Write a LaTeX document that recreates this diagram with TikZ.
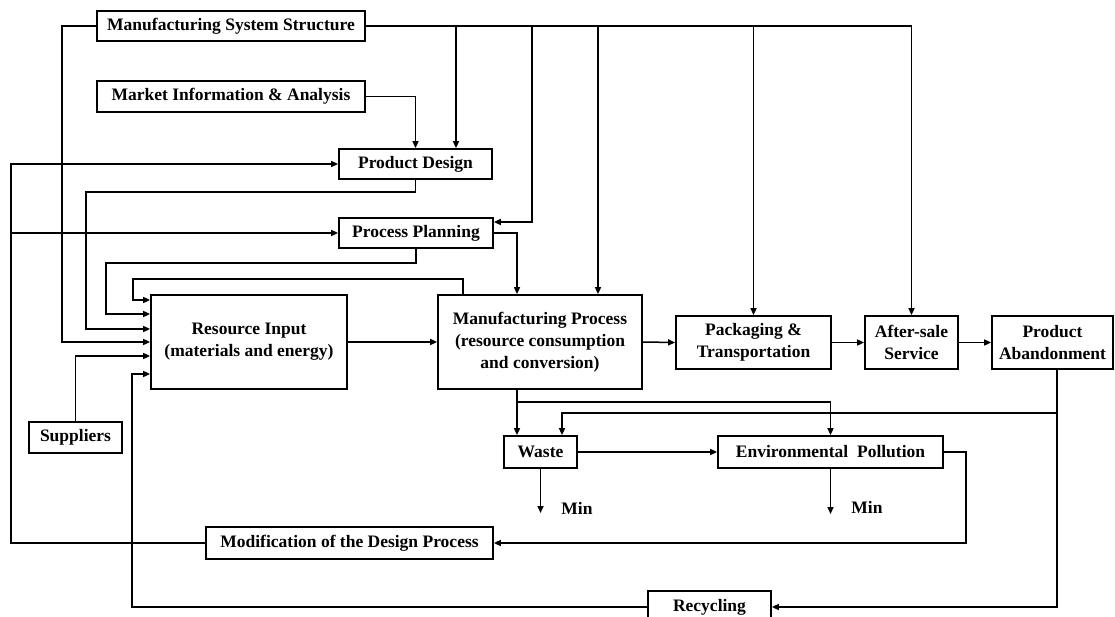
\documentclass[tikz,border=0pt]{standalone}
\usepackage{fontspec}
\setmainfont{Liberation Serif}
\usetikzlibrary{arrows.meta}
\tikzset{
  box/.style={draw, line width=1.7pt, inner sep=0pt, align=center, font=\bfseries\fontsize{17.5}{22}\selectfont},
  conn/.style={line width=1.5pt},
  arr/.style={conn, -{Triangle[length=7pt,width=6pt]}},
  lbl/.style={font=\bfseries\fontsize{17.5}{22}\selectfont, inner sep=0pt}
}
\begin{document}
\begin{tikzpicture}[x=1pt,y=-1pt]
\clip (0,0) rectangle (1115,617);
\fill[white] (0,0) rectangle (1115,617);
% nodes
\node[box, minimum width=268pt, minimum height=30pt] (mss) at (231,26) {Manufacturing System Structure};
\node[box, minimum width=268pt, minimum height=31pt] (mia) at (231,96.5) {Market Information \& Analysis};
\node[box, minimum width=153pt, minimum height=30pt] (pd) at (415.5,164) {Product Design};
\node[box, minimum width=154pt, minimum height=30pt] (pp) at (416,233) {Process Planning};
\node[box, minimum width=196pt, minimum height=94pt] (ri) at (249,342) {Resource Input\\(materials and energy)};
\node[box, minimum width=204pt, minimum height=94pt] (mp) at (540,342) {Manufacturing Process\\(resource consumption\\and conversion)};
\node[box, minimum width=155pt, minimum height=53pt] (pack) at (753.5,342.5) {Packaging \&\\Transportation};
\node[box, minimum width=93pt, minimum height=53pt] (ass) at (911.5,342.5) {After-sale\\Service};
\node[box, minimum width=121pt, minimum height=53pt] (pa) at (1052.5,342.5) {Product\\Abandonment};
\node[box, minimum width=93pt, minimum height=31pt] (sup) at (75.5,437.5) {Suppliers};
\node[box, minimum width=73pt, minimum height=32pt] (waste) at (540.5,452) {Waste};
\node[box, minimum width=225pt, minimum height=32pt] (ep) at (830.5,452) {Environmental\ \ Pollution};
\node[box, minimum width=287pt, minimum height=32pt] (mdp) at (349.5,543) {Modification of the Design Process};
\node[box, minimum width=123pt, minimum height=32pt] (rec) at (709.5,607) {Recycling};
\coordinate (wmin) at (540.5,513);
\coordinate (emin) at (830.5,514);
\node[lbl] (min1) at (577,508) {Min};
\node[lbl] (min2) at (867,507) {Min};
% Manufacturing System Structure connectors
\draw[arr] (mss.west) -- (62,26) -- (62,342) -- (ri.west);
\draw[arr] (mss.east) -- (911.5,26) -- (ass.north);
\draw[arr] (456,26) -- ([xshift=40.5pt]pd.north);
\draw[arr] (532,26) -- (532,222) -- ([yshift=11pt]pp.east);
\draw[arr] (598,26) -- ([xshift=58pt]mp.north);
\draw[arr] (753.5,26) -- (pack.north);
% Market info
\draw[arr] (mia.east) -| (pd.north);
% left feedback from modification
\draw[arr] (mdp.west) -| (11,164) -- (pd.west);
\draw[arr] (11,233) -- (pp.west);
% product design to resource input
\draw[arr] (pd.south) -- (415.5,192) -| (86,329) -- ([yshift=13pt]ri.west);
% process planning to resource input
\draw[arr] (pp.south) -- (416,263) -| (106,314) -- ([yshift=28pt]ri.west);
% manufacturing process back to resource input
\draw[arr] ([xshift=-77pt]mp.north) -- (463,279) -| (133,300) -- ([yshift=42pt]ri.west);
% suppliers
\draw[arr] (sup.north) -- (75.5,356) -- ([yshift=-14pt]ri.west);
% recycling
\draw[arr] (rec.west) -| (132,374) -- ([yshift=-32pt]ri.west);
% main chain
\draw[arr] (ri.east) -- (mp.west);
\draw[arr] (pp.east) -| ([xshift=-23pt]mp.north);
\draw[arr] (mp.east) -- (pack.west);
\draw[arr] (pack.east) -- (ass.west);
\draw[arr] (ass.east) -- (pa.west);
% outputs
\draw[arr] ([xshift=-23pt]mp.south) -- ([xshift=-23.5pt]waste.north);
\draw[arr] (517,402) -| (ep.north);
\draw[arr] ([xshift=4.5pt]pa.south) -- (1057,607) -- (rec.east);
\draw[arr] (1057,413) -| ([xshift=21.5pt]waste.north);
\draw[arr] (waste.east) -- (ep.west);
\draw[arr] (waste.south) -- (wmin);
\draw[arr] (ep.south) -- (emin);
\draw[arr] (ep.east) -- (966,452) -- (966,543) -- (mdp.east);
\end{tikzpicture}
\end{document}
